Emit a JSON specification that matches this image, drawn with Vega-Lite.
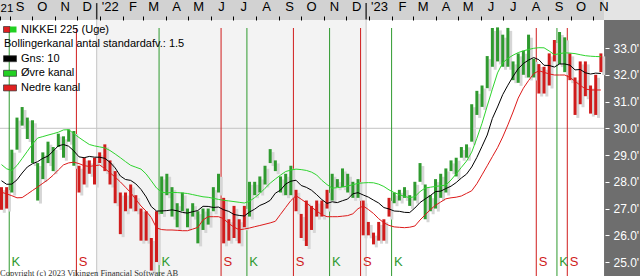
{
  "$schema": "https://vega.github.io/schema/vega-lite/v6.json",
  "width": 640,
  "height": 276,
  "autosize": "none",
  "padding": 0,
  "background": "#ffffff",
  "config": {"view": {"stroke": null}, "axis": {"grid": false, "labelOverlap": false, "labelFlush": false, "labelBound": false}},
  "title": {"text": "Copyright (c) 2023 Vikingen Financial Software AB", "orient": "bottom", "anchor": "start", "frame": "group", "offset": -8, "font": "Liberation Serif", "fontSize": 8.5, "fontWeight": "normal", "color": "#333333"},
  "datasets": {
    "weeks": [
      {"d":"2021-08-20","o":27700,"h":27800,"l":26954,"c":27013,"t":"S","m":28040,"u":28643,"b":27612},
      {"d":"2021-08-27","o":27100,"h":27800,"l":27000,"c":27641,"t":"S","m":27907,"u":28486,"b":27548},
      {"d":"2021-09-03","o":27700,"h":29200,"l":27600,"c":29128,"t":"K","m":27914,"u":28423,"b":27481},
      {"d":"2021-09-10","o":29300,"h":30400,"l":29200,"c":30381,"t":"K","m":28073,"u":28610,"b":27402},
      {"d":"2021-09-17","o":30300,"h":30795,"l":30100,"c":30500,"t":"K","m":28329,"u":28871,"b":27410},
      {"d":"2021-09-24","o":30200,"h":30400,"l":29600,"c":30248,"t":"K","m":28554,"u":29140,"b":27540},
      {"d":"2021-10-01","o":30200,"h":30300,"l":28700,"c":28771,"t":"K","m":28676,"u":29410,"b":27675},
      {"d":"2021-10-08","o":28500,"h":28700,"l":27300,"c":28049,"t":"K","m":28753,"u":29638,"b":27806},
      {"d":"2021-10-15","o":28300,"h":29100,"l":28100,"c":29068,"t":"K","m":28878,"u":29690,"b":27944},
      {"d":"2021-10-22","o":29200,"h":29500,"l":28700,"c":28804,"t":"K","m":28960,"u":29746,"b":28079},
      {"d":"2021-10-29","o":28700,"h":29300,"l":28400,"c":28892,"t":"K","m":29148,"u":29798,"b":28247},
      {"d":"2021-11-05","o":29300,"h":29800,"l":29300,"c":29611,"t":"K","m":29345,"u":29854,"b":28441},
      {"d":"2021-11-12","o":29500,"h":29700,"l":28900,"c":29609,"t":"K","m":29393,"u":29940,"b":28632},
      {"d":"2021-11-19","o":29700,"h":29960,"l":29500,"c":29745,"t":"K","m":29330,"u":29948,"b":28707},
      {"d":"2021-11-26","o":29600,"h":29900,"l":28600,"c":28751,"t":"K","m":29155,"u":29802,"b":28733},
      {"d":"2021-12-03","o":28400,"h":28600,"l":27600,"c":28029,"t":"S","m":28933,"u":29656,"b":28681},
      {"d":"2021-12-10","o":28000,"h":28900,"l":27900,"c":28437,"t":"S","m":28900,"u":29522,"b":28602},
      {"d":"2021-12-17","o":28600,"h":28800,"l":28300,"c":28545,"t":"S","m":28949,"u":29395,"b":28576},
      {"d":"2021-12-24","o":28200,"h":28900,"l":27900,"c":28782,"t":"S","m":28921,"u":29342,"b":28602},
      {"d":"2021-12-31","o":28800,"h":29100,"l":28700,"c":28791,"t":"S","m":28919,"u":29305,"b":28628},
      {"d":"2022-01-07","o":29000,"h":29400,"l":28400,"c":28478,"t":"S","m":28878,"u":29268,"b":28494},
      {"d":"2022-01-14","o":28300,"h":28800,"l":27900,"c":28124,"t":"S","m":28729,"u":29170,"b":28340},
      {"d":"2022-01-21","o":28300,"h":28400,"l":27200,"c":27522,"t":"S","m":28520,"u":29039,"b":28176},
      {"d":"2022-01-28","o":27400,"h":27600,"l":26044,"c":26717,"t":"S","m":28218,"u":28901,"b":27997},
      {"d":"2022-02-04","o":27000,"h":27600,"l":26900,"c":27439,"t":"S","m":28086,"u":28755,"b":27798},
      {"d":"2022-02-11","o":27300,"h":27900,"l":27000,"c":27696,"t":"S","m":28053,"u":28617,"b":27597},
      {"d":"2022-02-18","o":27300,"h":27500,"l":26900,"c":27122,"t":"S","m":27922,"u":28546,"b":27342},
      {"d":"2022-02-25","o":27000,"h":27000,"l":25800,"c":26476,"t":"S","m":27715,"u":28475,"b":27096},
      {"d":"2022-03-04","o":26500,"h":26900,"l":25800,"c":25985,"t":"S","m":27435,"u":28292,"b":26901},
      {"d":"2022-03-11","o":25600,"h":25900,"l":24681,"c":25162,"t":"S","m":27072,"u":28034,"b":26662},
      {"d":"2022-03-18","o":25200,"h":26900,"l":25000,"c":26827,"t":"S","m":26907,"u":27769,"b":26277},
      {"d":"2022-03-25","o":26900,"h":28200,"l":26800,"c":28149,"t":"K","m":26910,"u":27615,"b":26214},
      {"d":"2022-04-01","o":28100,"h":28300,"l":27500,"c":27666,"t":"K","m":26924,"u":27582,"b":26199},
      {"d":"2022-04-08","o":27800,"h":27800,"l":26700,"c":26985,"t":"K","m":26951,"u":27604,"b":26199},
      {"d":"2022-04-15","o":26800,"h":27200,"l":26300,"c":27093,"t":"K","m":26916,"u":27597,"b":26187},
      {"d":"2022-04-22","o":27000,"h":27600,"l":26900,"c":27105,"t":"K","m":26857,"u":27582,"b":26172},
      {"d":"2022-04-29","o":26700,"h":27000,"l":26300,"c":26847,"t":"K","m":26830,"u":27563,"b":26172},
      {"d":"2022-05-06","o":27000,"h":27200,"l":26700,"c":27003,"t":"K","m":26882,"u":27522,"b":26232},
      {"d":"2022-05-13","o":26800,"h":26900,"l":25700,"c":26427,"t":"K","m":26926,"u":27481,"b":26296},
      {"d":"2022-05-20","o":26600,"h":27000,"l":26200,"c":26739,"t":"K","m":27084,"u":27440,"b":26572},
      {"d":"2022-05-27","o":26900,"h":27000,"l":26400,"c":26781,"t":"K","m":27080,"u":27421,"b":26696},
      {"d":"2022-06-03","o":27000,"h":27800,"l":26900,"c":27761,"t":"K","m":27041,"u":27384,"b":26696},
      {"d":"2022-06-10","o":27900,"h":28300,"l":27600,"c":27824,"t":"K","m":27057,"u":27342,"b":26696},
      {"d":"2022-06-17","o":27400,"h":27400,"l":25700,"c":25963,"t":"S","m":26954,"u":27309,"b":26621},
      {"d":"2022-06-24","o":26100,"h":26600,"l":25800,"c":26491,"t":"S","m":26894,"u":27286,"b":26438},
      {"d":"2022-07-01","o":26800,"h":27100,"l":25900,"c":25935,"t":"S","m":26777,"u":27260,"b":26307},
      {"d":"2022-07-08","o":25900,"h":26600,"l":25700,"c":26517,"t":"S","m":26744,"u":27234,"b":26206},
      {"d":"2022-07-15","o":26700,"h":27100,"l":26300,"c":26788,"t":"S","m":26723,"u":27208,"b":26236},
      {"d":"2022-07-22","o":26900,"h":28000,"l":26700,"c":27914,"t":"K","m":26871,"u":27271,"b":26273},
      {"d":"2022-07-29","o":27700,"h":28000,"l":27500,"c":27801,"t":"K","m":26978,"u":27410,"b":26322},
      {"d":"2022-08-05","o":27900,"h":28200,"l":27600,"c":28175,"t":"K","m":27117,"u":27563,"b":26367},
      {"d":"2022-08-12","o":28200,"h":28600,"l":27900,"c":28547,"t":"K","m":27196,"u":27757,"b":26415},
      {"d":"2022-08-19","o":28700,"h":29222,"l":28700,"c":28930,"t":"K","m":27306,"u":27948,"b":26464},
      {"d":"2022-08-26","o":28800,"h":28800,"l":28400,"c":28641,"t":"K","m":27574,"u":28105,"b":26524},
      {"d":"2022-09-02","o":27900,"h":28200,"l":27600,"c":27650,"t":"K","m":27690,"u":28251,"b":26785},
      {"d":"2022-09-09","o":27700,"h":28300,"l":27500,"c":28214,"t":"K","m":27918,"u":28385,"b":27043},
      {"d":"2022-09-16","o":28500,"h":28600,"l":27500,"c":27567,"t":"K","m":28023,"u":28438,"b":27298},
      {"d":"2022-09-23","o":27600,"h":27700,"l":26900,"c":27153,"t":"S","m":28059,"u":28475,"b":27481},
      {"d":"2022-09-30","o":26500,"h":26800,"l":25900,"c":25937,"t":"S","m":27862,"u":28456,"b":27350},
      {"d":"2022-10-07","o":25800,"h":27300,"l":25600,"c":27116,"t":"S","m":27793,"u":28426,"b":27215},
      {"d":"2022-10-14","o":26500,"h":27100,"l":26200,"c":27090,"t":"S","m":27685,"u":28363,"b":27055},
      {"d":"2022-10-21","o":27200,"h":27300,"l":26700,"c":26891,"t":"S","m":27519,"u":28254,"b":26905},
      {"d":"2022-10-28","o":26800,"h":27300,"l":26700,"c":27105,"t":"S","m":27336,"u":28056,"b":26774},
      {"d":"2022-11-04","o":27300,"h":27700,"l":27000,"c":27199,"t":"S","m":27192,"u":27896,"b":26696},
      {"d":"2022-11-11","o":27600,"h":28300,"l":27300,"c":28263,"t":"K","m":27254,"u":27761,"b":26696},
      {"d":"2022-11-18","o":28000,"h":28100,"l":27800,"c":27899,"t":"K","m":27222,"u":27783,"b":26696},
      {"d":"2022-11-25","o":27900,"h":28500,"l":27800,"c":28283,"t":"K","m":27294,"u":27806,"b":26715},
      {"d":"2022-12-02","o":28300,"h":28300,"l":27600,"c":27777,"t":"K","m":27356,"u":27843,"b":26737},
      {"d":"2022-12-09","o":27800,"h":28000,"l":27400,"c":27901,"t":"K","m":27552,"u":27892,"b":26804},
      {"d":"2022-12-16","o":27900,"h":28100,"l":27400,"c":27527,"t":"K","m":27594,"u":27941,"b":26995},
      {"d":"2022-12-23","o":27300,"h":27300,"l":26000,"c":26235,"t":"S","m":27508,"u":27959,"b":27096},
      {"d":"2022-12-30","o":26300,"h":26500,"l":26000,"c":26095,"t":"S","m":27428,"u":27970,"b":26965},
      {"d":"2023-01-06","o":25900,"h":26100,"l":25661,"c":25974,"t":"S","m":27315,"u":27963,"b":26815},
      {"d":"2023-01-13","o":26200,"h":26500,"l":25800,"c":26120,"t":"S","m":27207,"u":27911,"b":26621},
      {"d":"2023-01-20","o":25900,"h":26600,"l":25800,"c":26554,"t":"S","m":27037,"u":27825,"b":26468},
      {"d":"2023-01-27","o":26800,"h":27400,"l":26700,"c":27383,"t":"S","m":26985,"u":27698,"b":26371},
      {"d":"2023-02-03","o":27400,"h":27600,"l":27200,"c":27509,"t":"K","m":26908,"u":27597,"b":26315},
      {"d":"2023-02-10","o":27300,"h":27700,"l":27300,"c":27671,"t":"K","m":26897,"u":27522,"b":26299},
      {"d":"2023-02-17","o":27500,"h":27800,"l":27400,"c":27513,"t":"K","m":26858,"u":27451,"b":26285},
      {"d":"2023-02-24","o":27500,"h":27500,"l":27100,"c":27454,"t":"K","m":26851,"u":27410,"b":26303},
      {"d":"2023-03-03","o":27500,"h":28000,"l":27300,"c":27927,"t":"K","m":27020,"u":27443,"b":26348},
      {"d":"2023-03-10","o":28000,"h":28700,"l":28000,"c":28144,"t":"K","m":27225,"u":27634,"b":26572},
      {"d":"2023-03-17","o":27800,"h":27900,"l":26600,"c":27334,"t":"K","m":27361,"u":27769,"b":26767},
      {"d":"2023-03-24","o":27400,"h":27500,"l":26900,"c":27385,"t":"K","m":27487,"u":27798,"b":26961},
      {"d":"2023-03-31","o":27400,"h":28100,"l":27000,"c":28041,"t":"K","m":27636,"u":27828,"b":27122},
      {"d":"2023-04-07","o":28200,"h":28300,"l":27400,"c":27518,"t":"K","m":27650,"u":27851,"b":27245},
      {"d":"2023-04-14","o":27600,"h":28500,"l":27600,"c":28493,"t":"K","m":27748,"u":27877,"b":27365},
      {"d":"2023-04-21","o":28500,"h":28800,"l":28400,"c":28564,"t":"K","m":27837,"u":28068,"b":27402},
      {"d":"2023-04-28","o":28600,"h":28900,"l":28200,"c":28856,"t":"K","m":27972,"u":28296,"b":27425},
      {"d":"2023-05-05","o":28900,"h":29300,"l":28900,"c":29157,"t":"K","m":28142,"u":28539,"b":27470},
      {"d":"2023-05-12","o":29100,"h":29400,"l":28900,"c":29388,"t":"K","m":28288,"u":28774,"b":27567},
      {"d":"2023-05-19","o":29600,"h":30900,"l":29500,"c":30808,"t":"K","m":28554,"u":29107,"b":27664},
      {"d":"2023-05-26","o":30900,"h":31400,"l":30500,"c":30916,"t":"K","m":28913,"u":29626,"b":27929},
      {"d":"2023-06-02","o":31000,"h":31600,"l":30800,"c":31524,"t":"K","m":29327,"u":30187,"b":28262},
      {"d":"2023-06-09","o":31900,"h":32700,"l":31500,"c":32265,"t":"K","m":29749,"u":30834,"b":28598},
      {"d":"2023-06-16","o":32300,"h":33750,"l":32300,"c":33706,"t":"K","m":30368,"u":31465,"b":28939},
      {"d":"2023-06-23","o":33500,"h":33772,"l":32500,"c":32781,"t":"K","m":30797,"u":32071,"b":29275},
      {"d":"2023-06-30","o":32500,"h":33500,"l":32300,"c":33189,"t":"K","m":31259,"u":32449,"b":29675},
      {"d":"2023-07-07","o":33500,"h":33753,"l":32300,"c":32388,"t":"K","m":31612,"u":32613,"b":30127},
      {"d":"2023-07-14","o":32200,"h":32500,"l":31800,"c":32391,"t":"K","m":31936,"u":32733,"b":30609},
      {"d":"2023-07-21","o":32600,"h":32800,"l":31700,"c":32304,"t":"K","m":32227,"u":32830,"b":31129},
      {"d":"2023-07-28","o":32800,"h":32900,"l":32000,"c":32759,"t":"K","m":32422,"u":32897,"b":31499},
      {"d":"2023-08-04","o":33300,"h":33500,"l":31900,"c":32192,"t":"K","m":32550,"u":32946,"b":31783},
      {"d":"2023-08-11","o":32300,"h":32600,"l":31900,"c":32474,"t":"K","m":32645,"u":32991,"b":32041},
      {"d":"2023-08-18","o":32200,"h":32400,"l":31300,"c":31450,"t":"S","m":32563,"u":33013,"b":32153},
      {"d":"2023-08-25","o":31600,"h":32300,"l":31300,"c":31624,"t":"S","m":32355,"u":33009,"b":32090},
      {"d":"2023-09-01","o":31700,"h":32800,"l":31600,"c":32710,"t":"S","m":32348,"u":32890,"b":32034},
      {"d":"2023-09-08","o":32800,"h":33300,"l":32500,"c":32606,"t":"S","m":32290,"u":32751,"b":31992},
      {"d":"2023-09-15","o":32500,"h":33600,"l":32400,"c":33533,"t":"K","m":32404,"u":32792,"b":31992},
      {"d":"2023-09-22","o":33200,"h":33400,"l":32100,"c":32402,"t":"K","m":32405,"u":32822,"b":31992},
      {"d":"2023-09-29","o":32700,"h":32800,"l":31800,"c":31857,"t":"S","m":32361,"u":32811,"b":31903},
      {"d":"2023-10-06","o":31800,"h":31900,"l":30500,"c":30994,"t":"S","m":32184,"u":32792,"b":31757},
      {"d":"2023-10-13","o":31000,"h":32500,"l":30900,"c":32315,"t":"S","m":32197,"u":32751,"b":31611},
      {"d":"2023-10-20","o":32300,"h":32500,"l":31200,"c":31259,"t":"S","m":32075,"u":32714,"b":31469},
      {"d":"2023-10-27","o":31000,"h":31600,"l":30550,"c":30991,"t":"S","m":32029,"u":32695,"b":31432},
      {"d":"2023-11-03","o":30700,"h":32000,"l":30500,"c":31950,"t":"S","m":32062,"u":32684,"b":31432},
      {"d":"2023-11-10","o":32500,"h":32800,"l":32100,"c":32568,"t":"S","m":32048,"u":32677,"b":31432}
    ],
    "signals": [
      {"d":"2021-09-03","t":"K"},{"d":"2021-12-03","t":"S"},{"d":"2022-03-25","t":"K"},
      {"d":"2022-06-17","t":"S"},{"d":"2022-07-22","t":"K"},{"d":"2022-09-23","t":"S"},
      {"d":"2022-11-11","t":"K"},{"d":"2022-12-23","t":"S"},{"d":"2023-02-03","t":"K"},
      {"d":"2023-08-18","t":"S"},{"d":"2023-09-15","t":"K"},{"d":"2023-09-29","t":"S"}
    ],
    "years": [{"d":"2022-01-01"},{"d":"2023-01-01"}]
  },
  "data": {"name": "weeks"},
  "layer": [
    {
      "mark": {"type": "rule", "stroke": "#d6d6d6", "strokeWidth": 3, "opacity": 0},
      "encoding": {
        "x": {"field": "d", "type": "temporal",
          "scale": {"type": "utc", "domain": [{"year": 2021, "month": 8, "date": 23, "utc": true}, {"year": 2024, "month": 1, "date": 7, "utc": true}]},
          "axis": {"orient": "top", "offset": -20, "title": null, "domain": false, "grid": false, "tickCount": 200,
            "values": [
              {"year": 2021, "month": 8, "date": 23, "utc": true},
              {"year": 2021, "month": 9, "date": 5, "utc": true}, {"year": 2021, "month": 10, "date": 5, "utc": true},
              {"year": 2021, "month": 11, "date": 5, "utc": true}, {"year": 2021, "month": 12, "date": 5, "utc": true},
              {"year": 2022, "month": 1, "date": 5, "utc": true}, {"year": 2022, "month": 2, "date": 5, "utc": true},
              {"year": 2022, "month": 3, "date": 5, "utc": true}, {"year": 2022, "month": 4, "date": 5, "utc": true},
              {"year": 2022, "month": 5, "date": 5, "utc": true}, {"year": 2022, "month": 6, "date": 5, "utc": true},
              {"year": 2022, "month": 7, "date": 5, "utc": true}, {"year": 2022, "month": 8, "date": 5, "utc": true},
              {"year": 2022, "month": 9, "date": 5, "utc": true}, {"year": 2022, "month": 10, "date": 5, "utc": true},
              {"year": 2022, "month": 11, "date": 5, "utc": true}, {"year": 2022, "month": 12, "date": 5, "utc": true},
              {"year": 2023, "month": 1, "date": 5, "utc": true}, {"year": 2023, "month": 2, "date": 5, "utc": true},
              {"year": 2023, "month": 3, "date": 5, "utc": true}, {"year": 2023, "month": 4, "date": 5, "utc": true},
              {"year": 2023, "month": 5, "date": 5, "utc": true}, {"year": 2023, "month": 6, "date": 5, "utc": true},
              {"year": 2023, "month": 7, "date": 5, "utc": true}, {"year": 2023, "month": 8, "date": 5, "utc": true},
              {"year": 2023, "month": 9, "date": 5, "utc": true}, {"year": 2023, "month": 10, "date": 5, "utc": true},
              {"year": 2023, "month": 11, "date": 5, "utc": true}
            ],
            "labelExpr": "utcyear(datum.value) == 2021 && utcmonth(datum.value) == 7 ? utcFormat(datum.value, '%y') : utcmonth(datum.value) == 0 ? \"'\" + utcFormat(datum.value, '%y') : substring(utcFormat(datum.value, '%b'), 0, 1)",
            "tickSize": 4, "tickColor": "#000000", "labelFont": "Liberation Sans", "labelColor": "#000000",
            "labelFontSize": {"condition": {"test": "utcyear(datum.value) == 2021 && utcmonth(datum.value) == 7", "value": 11.5}, "value": 13},
            "labelOffset": {"condition": {"test": "utcyear(datum.value) == 2021 && utcmonth(datum.value) == 7", "value": 6.5}, "value": 10},
            "labelPadding": 3, "labelAlign": "center", "labelFlush": false, "labelOverlap": false, "labelBound": false, "zindex": 2}},
        "y": {"field": "l", "type": "quantitative",
          "scale": {"domain": [24479, 34796], "nice": false, "zero": false},
          "axis": {"orient": "right", "offset": -35, "title": null, "domain": false, "grid": false, "tickCount": 200,
            "values": [25000, 26000, 27000, 28000, 29000, 30000, 31000, 32000, 33000],
            "labelExpr": "format(datum.value / 1000, '.1f') + \"'\"",
            "tickSize": 4, "tickColor": "#ffffff", "labelColor": "#ffffff", "labelFont": "Liberation Sans", "labelFontSize": 12,
            "labelPadding": 4, "labelFlush": false, "labelOverlap": false, "labelBound": false, "zindex": 2}},
        "y2": {"field": "h"}
      }
    },
    {
      "data": {"values": [{}]},
      "mark": {"type": "rect", "fill": "#f3f3f3"},
      "encoding": {
        "x": {"datum": {"year": 2022, "month": 1, "date": 1, "utc": true}, "type": "temporal"},
        "x2": {"datum": {"year": 2023, "month": 1, "date": 1, "utc": true}},
        "y": {"datum": 24479, "type": "quantitative"},
        "y2": {"datum": 34048}
      }
    },
    {
      "data": {"values": [{}]},
      "mark": {"type": "rect", "fill": "#d2d2d2"},
      "encoding": {
        "x": {"datum": {"year": 2021, "month": 8, "date": 23, "utc": true}, "type": "temporal"},
        "x2": {"datum": {"year": 2023, "month": 11, "date": 19, "hours": 7, "utc": true}},
        "y": {"datum": 34048, "type": "quantitative"},
        "y2": {"datum": 34796}
      }
    },
    {
      "data": {"values": [{}]},
      "mark": {"type": "rect", "fill": "#e4e4e4"},
      "encoding": {
        "x": {"datum": {"year": 2023, "month": 11, "date": 19, "hours": 7, "utc": true}, "type": "temporal"},
        "x2": {"datum": {"year": 2024, "month": 1, "date": 7, "utc": true}},
        "y": {"datum": 34048, "type": "quantitative"},
        "y2": {"datum": 34796}
      }
    },
    {
      "data": {"values": [{}]},
      "mark": {"type": "rect", "fill": "#6e6e6e"},
      "encoding": {
        "x": {"datum": {"year": 2023, "month": 11, "date": 19, "hours": 7, "utc": true}, "type": "temporal"},
        "x2": {"datum": {"year": 2024, "month": 1, "date": 7, "utc": true}},
        "y": {"datum": 24479, "type": "quantitative"},
        "y2": {"datum": 34048}
      }
    },
    {
      "data": {"values": [{}]},
      "mark": {"type": "rule", "stroke": "#c4c4c4", "strokeWidth": 1},
      "encoding": {
        "x": {"datum": {"year": 2021, "month": 8, "date": 23, "utc": true}, "type": "temporal"},
        "x2": {"datum": {"year": 2023, "month": 11, "date": 19, "hours": 7, "utc": true}},
        "y": {"datum": 30000, "type": "quantitative"}
      }
    },
    {
      "data": {"name": "years"},
      "mark": {"type": "rule", "stroke": "#c4c4c4", "strokeWidth": 1},
      "encoding": {
        "x": {"field": "d", "type": "temporal"},
        "y": {"datum": 34048, "type": "quantitative"},
        "y2": {"datum": 24479}
      }
    },
    {
      "data": {"name": "years"},
      "mark": {"type": "rule", "stroke": "#333333", "strokeWidth": 1.5},
      "encoding": {
        "x": {"field": "d", "type": "temporal"},
        "y": {"datum": 34070, "type": "quantitative"},
        "y2": {"datum": 34680}
      }
    },
    {
      "data": {"name": "signals"},
      "mark": {"type": "rule", "strokeWidth": 1, "xOffset": 1.1},
      "encoding": {
        "x": {"field": "d", "type": "temporal"},
        "y": {"datum": 33749, "type": "quantitative"},
        "y2": {"datum": 24479},
        "stroke": {"field": "t", "type": "nominal", "scale": {"domain": ["K", "S"], "range": ["#2f9a2f", "#d01c1c"]}, "legend": null}
      }
    },
    {
      "mark": {"type": "rule", "stroke": "#d6d6d6", "strokeWidth": 3, "xOffset": 6.5, "yOffset": 3, "y2Offset": 3},
      "encoding": {
        "x": {"field": "d", "type": "temporal"},
        "y": {"field": "l", "type": "quantitative"},
        "y2": {"field": "h"}
      }
    },
    {
      "mark": {"type": "rule", "strokeWidth": 3, "xOffset": 3.7},
      "encoding": {
        "x": {"field": "d", "type": "temporal"},
        "y": {"field": "l", "type": "quantitative"},
        "y2": {"field": "h"},
        "stroke": {"field": "t", "type": "nominal", "legend": null}
      }
    },
    {
      "mark": {"type": "line", "stroke": "#2ed42e", "strokeWidth": 1, "xOffset": 3.7},
      "encoding": {
        "x": {"field": "d", "type": "temporal"},
        "y": {"field": "u", "type": "quantitative"}
      }
    },
    {
      "mark": {"type": "line", "stroke": "#dd1a1a", "strokeWidth": 1, "xOffset": 3.7},
      "encoding": {
        "x": {"field": "d", "type": "temporal"},
        "y": {"field": "b", "type": "quantitative"}
      }
    },
    {
      "mark": {"type": "line", "stroke": "#000000", "strokeWidth": 1, "xOffset": 3.7},
      "encoding": {
        "x": {"field": "d", "type": "temporal"},
        "y": {"field": "m", "type": "quantitative"}
      }
    },
    {
      "data": {"name": "signals"},
      "mark": {"type": "text", "align": "left", "baseline": "alphabetic", "xOffset": 3.5, "font": "Liberation Sans", "fontSize": 13},
      "encoding": {
        "x": {"field": "d", "type": "temporal"},
        "y": {"datum": 24853, "type": "quantitative"},
        "text": {"field": "t"},
        "fill": {"field": "t", "type": "nominal", "scale": {"domain": ["K", "S"], "range": ["#2f9a2f", "#d01c1c"]}, "legend": null}
      }
    },
    {
      "data": {"values": [{"s": "NIKKEI 225 (Uge)"}, {"s": "Bollingerkanal antal standardafv.: 1.5"}, {"s": "Gns: 10"}, {"s": "Øvre kanal"}, {"s": "Nedre kanal"}]},
      "mark": {"type": "square", "opacity": 0},
      "encoding": {
        "color": {"field": "s", "type": "nominal", "sort": null,
          "scale": {"domain": ["NIKKEI 225 (Uge)", "Bollingerkanal antal standardafv.: 1.5", "Gns: 10", "Øvre kanal", "Nedre kanal"], "range": ["#e02020", "transparent", "#000000", "#22d022", "#e02020"]},
          "legend": {"orient": "none", "legendX": 3, "legendY": 22.5, "title": null, "padding": 0,
            "symbolType": "M-1,-0.46H1V0.46H-1Z", "symbolSize": 169, "symbolOpacity": 1,
            "symbolStrokeColor": "#333333", "symbolStrokeWidth": 0.7,
            "labelFont": "Liberation Sans", "labelFontSize": 11, "labelColor": "#000000", "labelLimit": 400, "labelOffset": 4,
            "rowPadding": 2.6, "direction": "vertical",
            "encode": {
              "symbols": {"update": {
                "shape": {"signal": "datum.value === 'NIKKEI 225 (Uge)' ? 'M-1,-0.46H0V0.46H-1Z' : 'M-1,-0.46H1V0.46H-1Z'"},
                "stroke": {"signal": "datum.value === 'Bollingerkanal antal standardafv.: 1.5' ? 'transparent' : '#333333'"},
                "opacity": {"value": 1}
              }},
              "labels": {"update": {"dx": {"signal": "datum.value === 'Bollingerkanal antal standardafv.: 1.5' ? -17 : 0"}}}
            }
          }
        }
      }
    },
    {
      "data": {"values": [{"s": "NIKKEI 225 (Uge)"}]},
      "mark": {"type": "point", "filled": true, "opacity": 0},
      "encoding": {
        "color": {"value": "#22d022"},
        "shape": {"field": "s", "type": "nominal",
          "scale": {"domain": ["NIKKEI 225 (Uge)"], "range": ["M0,-0.46H1V0.46H0Z"]},
          "legend": {"orient": "none", "legendX": 3, "legendY": 22.5, "title": null, "padding": 0,
            "symbolSize": 169, "symbolOpacity": 1, "symbolFillColor": "#22d022",
            "symbolStrokeColor": "#333333", "symbolStrokeWidth": 0.7,
            "labelExpr": "''", "labelFontSize": 11, "labelOffset": 4,
            "encode": {"symbols": {"update": {"fill": {"value": "#22d022"}, "stroke": {"value": "#333333"}, "opacity": {"value": 1}}}}
          }
        }
      }
    }
  ]
}
